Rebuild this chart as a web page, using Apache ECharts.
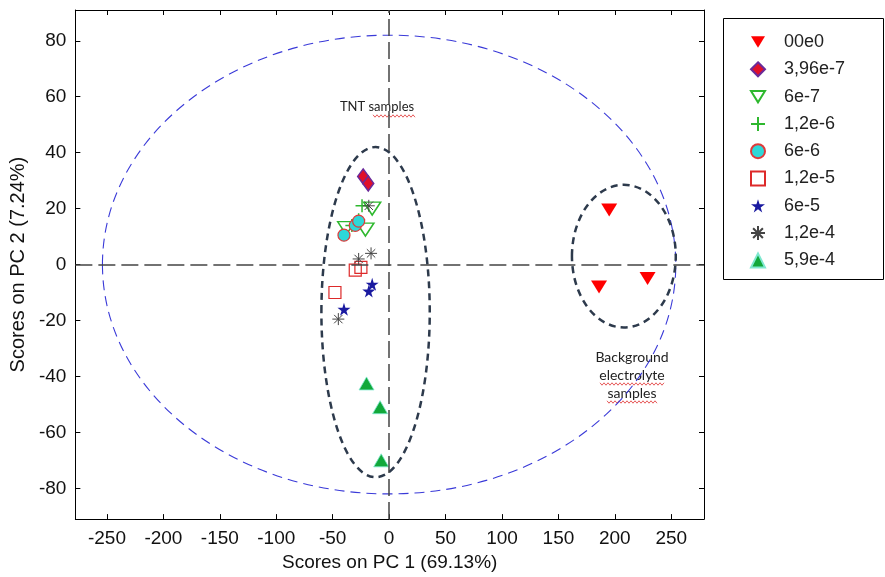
<!DOCTYPE html>
<html>
<head>
<meta charset="utf-8">
<script src="https://cdn.jsdelivr.net/npm/echarts@6/dist/echarts.min.js"></script>
<style>
  html, body { margin: 0; padding: 0; background: #fff; }
  #pcaScores { width: 885px; height: 577px; }
</style>
</head>
<body>
<div id="pcaScores"></div>
<script>
// Concentration groups (legend order)
var groupNames = ['00e0', '3,96e-7', '6e-7', '1,2e-6', '6e-6', '1,2e-5', '6e-5', '1,2e-4', '5,9e-4'];

// Scores [PC1, PC2] for each group
var scores00e0 = [[195, 19.5], [186, -8], [229, -5]];
var scores396e7 = [[-23, 31.5], [-18.5, 29]];
var scores6e7 = [[-38, 13], [-21, 12.5], [-15, 20]];
var scores12e6 = [[-24, 21], [-33, 14], [-27, 16]];
var scores6e6 = [[-40, 10.5], [-30, 14], [-27, 15.5]];
var scores12e5 = [[-30, -2], [-25, -1], [-48, -10]];
var scores6e5 = [[-15, -7], [-18, -9.5], [-40, -16]];
var scores12e4 = [[-45, -19.5], [-16, 4], [-27, 2], [-18, 21]];
var scores59e4 = [[-20, -42.5], [-8, -51], [-7, -70]];

// Tick labels
var xTicks = [-250, -200, -150, -100, -50, 0, 50, 100, 150, 200, 250];
var yTicks = [-80, -60, -40, -20, 0, 20, 40, 60, 80];

// Dashed ellipses [centre PC1, centre PC2, half width, half height]
var outerEllipse = [0, 0, 254, 82];
var tntEllipse = [-12, -17, 48, 59];
var backgroundEllipse = [208, 3, 46, 25.5];

var myChart = echarts.init(document.getElementById('pcaScores'));

var fontName = 'Liberation Sans';
var triangleDown = 'path://M0,0L16,0L8,13Z';
var plusPath = 'path://M5,0L5,10M0,5L10,5';
var starPath = 'path://M50,0L61,35L98,35L68,57L79,91L50,70L21,91L32,57L2,35L39,35Z';
var asteriskPath = 'path://M5,0L5,10M0,5L10,5M1.5,1.5L8.5,8.5M8.5,1.5L1.5,8.5';

function ellipseSeries(values, color, width, dash) {
    return {
        type: 'custom',
        silent: true,
        z: 1,
        data: [values],
        renderItem: function (params, api) {
            var c = api.coord([api.value(0), api.value(1)]);
            var s = api.size([api.value(2), api.value(3)]);
            return {
                type: 'ellipse',
                shape: { cx: c[0], cy: c[1], rx: s[0], ry: s[1] },
                style: { fill: 'none', stroke: color, lineWidth: width, lineDash: dash }
            };
        }
    };
}

function scatter(name, data, symbol, size, itemStyle) {
    itemStyle.opacity = 1;
    return {
        name: name,
        type: 'scatter',
        z: 3,
        data: data,
        symbol: symbol,
        symbolSize: size,
        itemStyle: itemStyle
    };
}

// red spell-check squiggle under a word, drawn as decoration
function squiggle(x0, x1, y) {
    var pts = [];
    for (var x = x0, k = 0; x <= x1; x += 2, k++) {
        pts.push([x, y + (k % 2 ? 1.2 : -1.2)]);
    }
    return {
        type: 'polyline',
        shape: { points: pts },
        style: { stroke: '#e03030', lineWidth: 0.8, fill: 'none' }
    };
}

var hiddenAxis = {
    axisLabel: { show: false },
    splitLine: { show: false },
    axisLine: { onZero: false, lineStyle: { color: '#000', width: 1 } }
};

var option = {
    backgroundColor: '#fff',
    animation: false,
    grid: { left: 72, right: 181, top: 10, bottom: 51 },
    xAxis: [
        {
            type: 'value', min: -278, max: 279,
            name: 'Scores on PC 1 (69.13%)', nameLocation: 'middle', nameGap: 31,
            nameTextStyle: { fontFamily: fontName, fontSize: 19, color: '#111' },
            splitLine: { show: false },
            axisLine: { onZero: false, lineStyle: { color: '#000', width: 1 } },
            axisTick: { inside: true, length: 5, customValues: xTicks, lineStyle: { color: '#000' } },
            axisLabel: { customValues: xTicks, margin: 10, fontFamily: fontName, fontSize: 19, color: '#111' }
        },
        Object.assign({
            type: 'value', min: -278, max: 279, position: 'top',
            axisTick: { inside: true, length: 5, customValues: xTicks, lineStyle: { color: '#000' } }
        }, hiddenAxis)
    ],
    yAxis: [
        {
            type: 'value', min: -91, max: 91,
            name: 'Scores on PC 2 (7.24%)', nameLocation: 'middle', nameGap: 44,
            nameTextStyle: { fontFamily: fontName, fontSize: 20, color: '#111' },
            splitLine: { show: false },
            axisLine: { onZero: false, lineStyle: { color: '#000', width: 1 } },
            axisTick: { inside: true, length: 5, customValues: yTicks, lineStyle: { color: '#000' } },
            axisLabel: { customValues: yTicks, margin: 9, fontFamily: fontName, fontSize: 19, color: '#111' }
        },
        Object.assign({
            type: 'value', min: -91, max: 91, position: 'right',
            axisTick: { inside: true, length: 5, customValues: yTicks, lineStyle: { color: '#000' } }
        }, hiddenAxis)
    ],
    legend: {
        orient: 'vertical',
        left: 750,
        top: 33,
        padding: 0,
        itemWidth: 14,
        itemHeight: 14,
        itemGap: 9.3,
        selectedMode: false,
        textStyle: { fontFamily: fontName, fontSize: 18, color: '#222', padding: [0, 0, 0, 14] },
        data: groupNames
    },
    graphic: [
        {
            type: 'rect',
            shape: { x: 723.5, y: 18.5, width: 160, height: 261 },
            style: { fill: 'none', stroke: '#000', lineWidth: 1 }
        },
        {
            type: 'text', x: 377, y: 107,
            style: { text: 'TNT samples', fontFamily: 'Lato', fontSize: 13, fill: '#222', align: 'center', verticalAlign: 'middle' }
        },
        squiggle(373, 415, 116),
        {
            type: 'text', x: 632, y: 375,
            style: {
                text: 'Background\nelectrolyte\nsamples', fontFamily: 'Lato', fontSize: 14, lineHeight: 18,
                fill: '#222', align: 'center', verticalAlign: 'middle'
            }
        },
        squiggle(600, 664, 384),
        squiggle(607, 657, 402)
    ],
    series: [
        ellipseSeries(outerEllipse, '#3a3ad8', 1.1, [10, 6]),
        ellipseSeries(tntEllipse, '#2d3a4c', 2.5, [7, 5]),
        ellipseSeries(backgroundEllipse, '#2d3a4c', 2.5, [7, 5]),
        {
            type: 'line',
            data: [],
            silent: true,
            markLine: {
                silent: true,
                symbol: 'none',
                label: { show: false },
                lineStyle: { color: '#444', width: 1.5, type: [17, 6] },
                data: [{ xAxis: 0 }, { yAxis: 0 }]
            }
        },
        scatter('00e0', scores00e0, triangleDown, [16, 13], { color: '#ff0000' }),
        scatter('3,96e-7', scores396e7, 'diamond', [11, 15], { color: '#e0102a', borderColor: '#6a2a9a', borderWidth: 1.5 }),
        scatter('6e-7', scores6e7, triangleDown, [17, 13], { color: 'rgba(255,255,255,0)', borderColor: '#2eb82e', borderWidth: 1.5 }),
        scatter('1,2e-6', scores12e6, plusPath, 13, { color: 'rgba(255,255,255,0)', borderColor: '#2eb82e', borderWidth: 1.5 }),
        scatter('6e-6', scores6e6, 'circle', 12, { color: '#2ed8d8', borderColor: '#e03a3a', borderWidth: 1.2 }),
        scatter('1,2e-5', scores12e5, 'rect', 12, { color: 'rgba(255,255,255,0)', borderColor: '#dd2a2a', borderWidth: 1.2 }),
        scatter('6e-5', scores6e5, starPath, 13, { color: '#1a1aa0' }),
        scatter('1,2e-4', scores12e4, asteriskPath, 12, { color: 'rgba(255,255,255,0)', borderColor: '#444', borderWidth: 1 }),
        scatter('5,9e-4', scores59e4, 'triangle', [15, 13], { color: '#12a83a', borderColor: '#7fe8d0', borderWidth: 0.8 })
    ]
};

myChart.setOption(option);
</script>
</body>
</html>
